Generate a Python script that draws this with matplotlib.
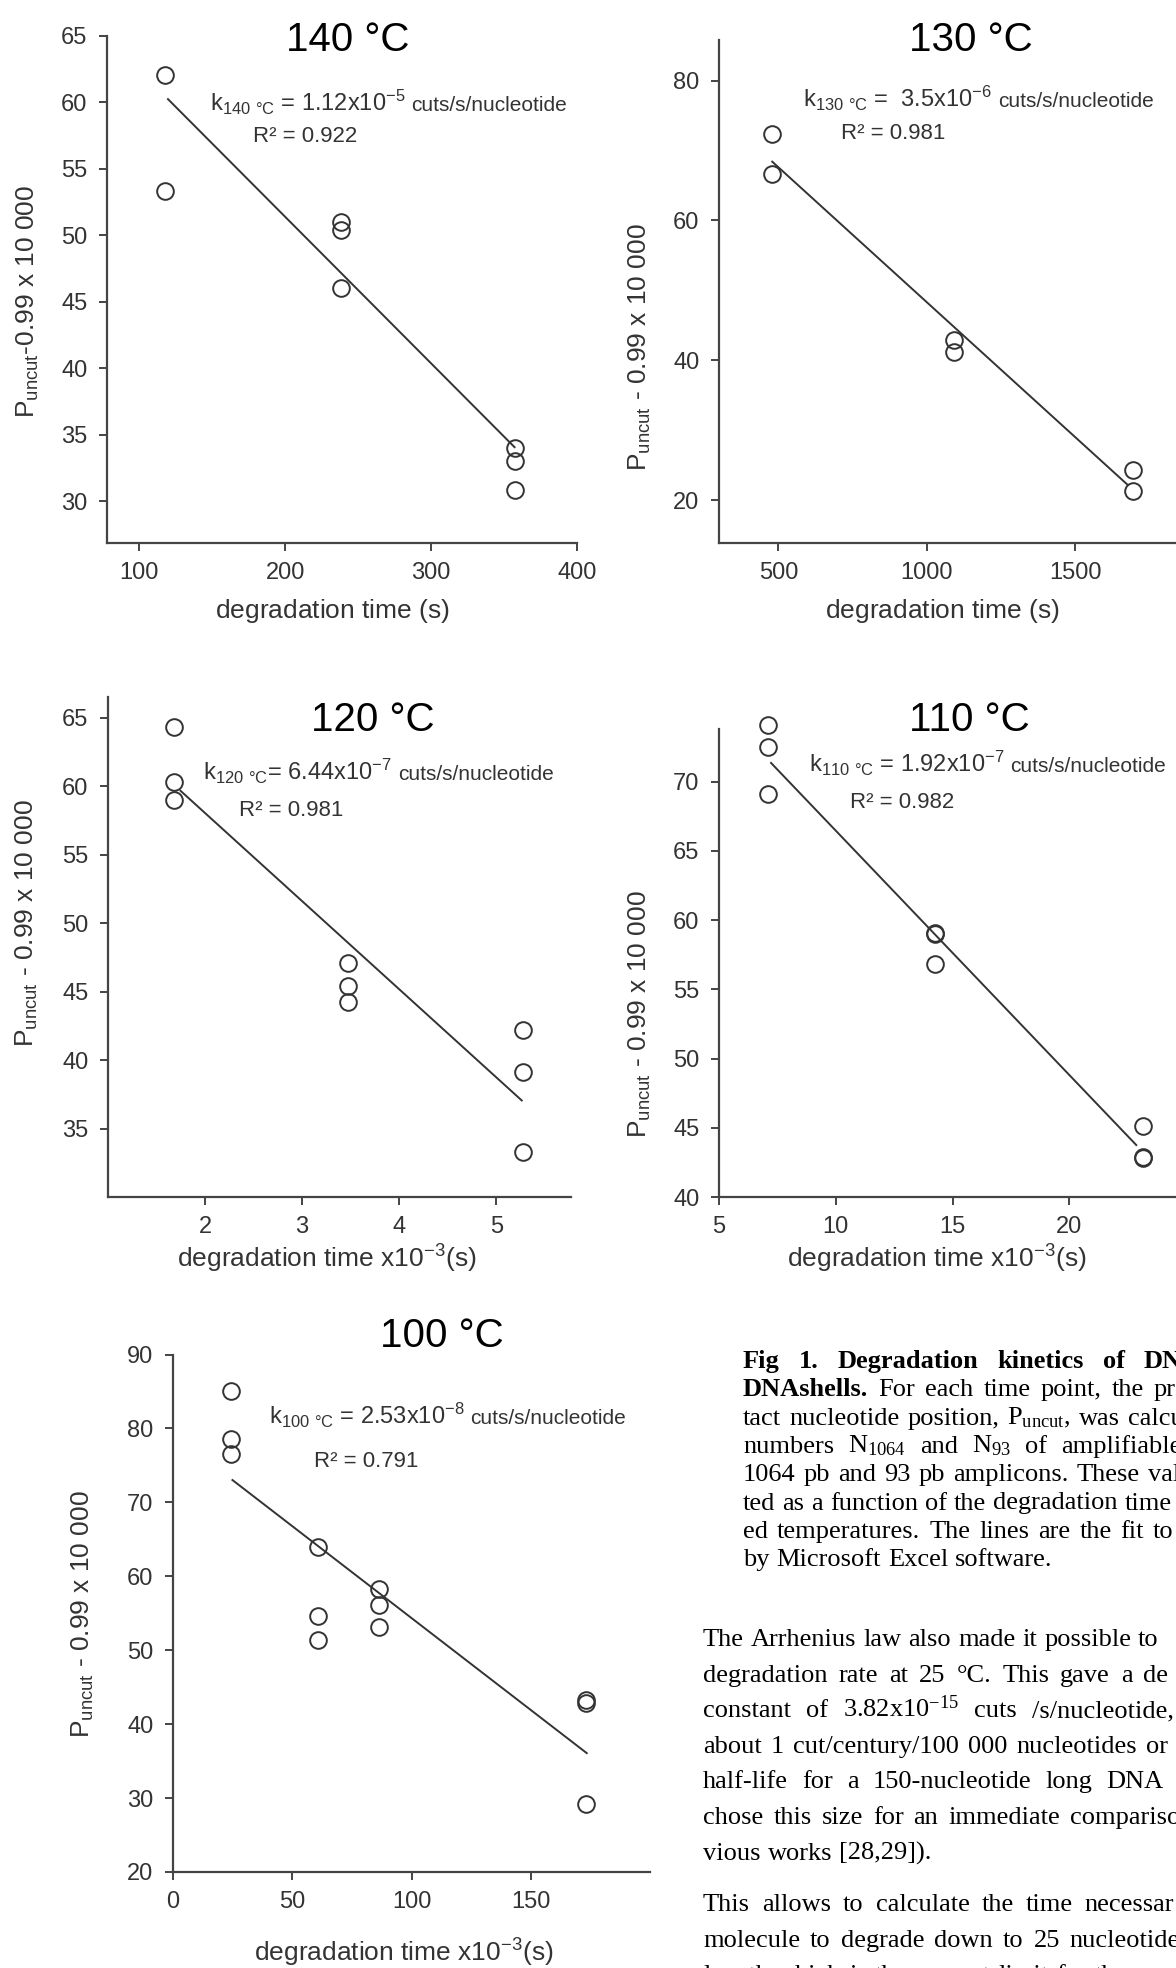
import matplotlib.pyplot as plt

W, H = 1176, 1968

# ---- data ----
t140 = [117.7, 117.7, 238.3, 238.3, 238.3, 357.7, 357.7, 357.7]
p140 = [62.1, 53.3, 51.0, 50.4, 46.0, 34.0, 33.0, 30.8]
fit140_t = [119.3, 357.7]
fit140_p = [60.3, 34.0]

t130 = [478.6, 478.6, 1090.6, 1090.6, 1696, 1696]
p130 = [72.4, 66.6, 42.9, 41.2, 24.3, 21.3]
fit130_t = [477, 1680]
fit130_p = [68.5, 22.1]

t120 = [1.68, 1.68, 1.68, 3.47, 3.47, 3.47, 5.28, 5.28, 5.28]
p120 = [64.3, 60.3, 59.0, 47.1, 45.4, 44.2, 42.2, 39.1, 33.3]
fit120_t = [1.74, 5.27]
fit120_p = [59.7, 37.0]

t110 = [7.08, 7.08, 7.08, 14.23, 14.23, 14.23, 23.15, 23.15, 23.15]
p110 = [74.1, 72.5, 69.1, 59.1, 59.0, 56.8, 45.1, 42.9, 42.8]
fit110_t = [7.2, 22.9]
fit110_p = [71.4, 43.7]

t100 = [24.3, 24.3, 24.3, 60.7, 60.7, 60.7, 86.3, 86.3, 86.3, 173.1, 173.1, 173.1]
p100 = [85.1, 78.6, 76.5, 63.9, 54.6, 51.4, 58.3, 56.1, 53.2, 43.3, 42.9, 29.2]
fit100_t = [24.6, 173.8]
fit100_p = [73.1, 36.0]

temps = ["140 °C", "130 °C", "120 °C", "110 °C", "100 °C"]
k_texts = [r"k$_{140\ °C}$ = 1.12x10$^{-5}$",
           r"k$_{130\ °C}$ =  3.5x10$^{-6}$",
           r"k$_{120\ °C}$= 6.44x10$^{-7}$",
           r"k$_{110\ °C}$ = 1.92x10$^{-7}$",
           r"k$_{100\ °C}$ = 2.53x10$^{-8}$"]
r2_texts = ["R² = 0.922", "R² = 0.981", "R² = 0.981", "R² = 0.982", "R² = 0.791"]
ylabels = [r"P$_{uncut}$-0.99 x 10 000"] + [r"P$_{uncut}$ - 0.99 x 10 000"] * 4
xlabels = ["degradation time ($s$)", "degradation time ($s$)",
           r"degradation time x10$^{-3}$($s$)", r"degradation time x10$^{-3}$($s$)",
           r"degradation time x10$^{-3}$($s$)"]

# text of the page column, as far as the page crop shows it
caption = [
    ([("Fig", "bold"), ("1.", "bold"), ("Degradation", "bold"), ("kinetics", "bold"),
      ("of", "bold"), ("DN", "bold")], 19),
    ([("DNAshells.", "bold"), ("For", "normal"), ("each", "normal"), ("time", "normal"),
      ("point,", "normal"), ("the", "normal"), ("pr", "normal")], 10),
    ([("tact", "normal"), ("nucleotide", "normal"), ("position,", "normal"),
      (r"P$_{uncut}$,", "normal"), ("was", "normal"), ("calcu", "normal")], 8),
    ([("numbers", "normal"), (r"N$_{1064}$", "normal"), ("and", "normal"),
      (r"N$_{93}$", "normal"), ("of", "normal"), ("amplifiable", "normal")], 14),
    ([("1064", "normal"), ("pb", "normal"), ("and", "normal"), ("93", "normal"),
      ("pb", "normal"), ("amplicons.", "normal"), ("These", "normal"), ("val", "normal")], 8),
    ([("ted", "normal"), ("as", "normal"), ("a", "normal"), ("function", "normal"),
      ("of", "normal"), ("the", "normal"), ("degradation", "normal"), ("time", "normal")], 7),
    ([("ed", "normal"), ("temperatures.", "normal"), ("The", "normal"), ("lines", "normal"),
      ("are", "normal"), ("the", "normal"), ("fit", "normal"), ("to", "normal")], 9),
    ([("by", "normal"), ("Microsoft", "normal"), ("Excel", "normal"), ("software.", "normal")], 7),
]

body = [
    ("The Arrhenius law also made it possible to", 7),
    ("degradation rate at 25 °C. This gave a de", 11),
    (r"constant of 3.82x10$^{-15}$ cuts /s/nucleotide,", 15),
    ("about 1 cut/century/100 000 nucleotides or 3", 9),
    ("half-life for a 150-nucleotide long DNA", 14),
    ("chose this size for an immediate compariso", 10),
    ("vious works [28,29]).", 7),
    (None, 0),
    ("This allows to calculate the time necessar", 12),
    ("molecule to degrade down to 25 nucleotide", 10),
    ("length which is the current limit for the", 8),
]

plt.rcParams['font.family'] = 'Liberation Sans'
plt.rcParams['mathtext.default'] = 'regular'

fig = plt.figure(figsize=(W / 100, H / 100), dpi=100)
ink = '#333333'


def fx(x):
    return x / W


def fy(y):
    return 1 - y / H


def make_axes(left, right, top, bottom, xlim, ylim, xticks, yticks):
    ax = fig.add_axes([fx(left), fy(bottom), (right - left) / W, (bottom - top) / H])
    ax.set_xlim(*xlim)
    ax.set_ylim(*ylim)
    ax.patch.set_visible(False)
    for s in ['top', 'right']:
        ax.spines[s].set_visible(False)
    for s in ['left', 'bottom']:
        ax.spines[s].set_linewidth(1.6)
        ax.spines[s].set_color('#444444')
    ax.set_xticks(xticks)
    ax.set_yticks(yticks)
    ax.tick_params(direction='out', length=6, width=1.4, color='#444444',
                   labelsize=17, labelcolor=ink, pad=8)
    return ax


def scatter_fit(ax, t, p, ft, fp):
    ax.plot(ft, fp, color=ink, lw=1.4, solid_capstyle='butt')
    ax.plot(t, p, 'o', ms=12, mfc='none', mec=ink, mew=1.4, clip_on=False)


panels = [
    dict(box=(107, 577, 36, 543), xlim=(78, 400), ylim=(26.84, 65),
         xt=[100, 200, 300, 400], yt=range(30, 66, 5), data=(t140, p140, fit140_t, fit140_p),
         title=(348, 51), k=(210, 111), r2=(253, 142), yl=(28, 301), xl=(333, 618)),
    dict(box=(719, 1223.5, 40, 543), xlim=(300, 2000), ylim=(13.9, 85.8),
         xt=[500, 1000, 1500], yt=[20, 40, 60, 80], data=(t130, p130, fit130_t, fit130_p),
         title=(971, 51), k=(803, 107), r2=(841, 139), yl=(640, 347), xl=(943, 618)),
    dict(box=(108, 571, 697, 1197), xlim=(1.0, 5.77), ylim=(30.0, 66.5),
         xt=[2, 3, 4, 5], yt=range(35, 66, 5), data=(t120, p120, fit120_t, fit120_p),
         title=(373, 731), k=(203, 780), r2=(239, 816), yl=(27, 923), xl=(327, 1268)),
    dict(box=(719, 1186, 729, 1197), xlim=(5, 25), ylim=(40, 73.8),
         xt=[5, 10, 15, 20], yt=range(40, 71, 5), data=(t110, p110, fit110_t, fit110_p),
         title=(969, 731), k=(809, 772), r2=(850, 808), yl=(640, 1014), xl=(937, 1268)),
    dict(box=(173, 650, 1354.5, 1872), xlim=(0, 200), ylim=(20, 90),
         xt=[0, 50, 100, 150], yt=range(20, 91, 10), data=(t100, p100, fit100_t, fit100_p),
         title=(442, 1347), k=(269, 1424), r2=(314, 1467), yl=(83, 1614), xl=(404, 1962)),
]

renderer = fig.canvas.get_renderer()

for i, pn in enumerate(panels):
    l, r, t, b = pn['box']
    ax = make_axes(l, r, t, b, pn['xlim'], pn['ylim'], pn['xt'], pn['yt'])
    scatter_fit(ax, *pn['data'])
    fig.text(fx(pn['title'][0]), fy(pn['title'][1]), temps[i], fontsize=29,
             ha='center', va='baseline', color='black')
    kt = fig.text(fx(pn['k'][0]), fy(pn['k'][1]), k_texts[i], fontsize=17,
                  ha='left', va='baseline', color=ink)
    bb = kt.get_window_extent(renderer)
    fig.text(fx(bb.x1 + 6), fy(pn['k'][1]), "cuts/s/nucleotide", fontsize=15,
             ha='left', va='baseline', color=ink)
    fig.text(fx(pn['r2'][0]), fy(pn['r2'][1]), r2_texts[i], fontsize=16,
             ha='left', va='baseline', color=ink)
    fig.text(fx(pn['yl'][0]), fy(pn['yl'][1]), ylabels[i], fontsize=19, rotation=90,
             ha='center', va='center', color=ink)
    fig.text(fx(pn['xl'][0]), fy(pn['xl'][1]), xlabels[i], fontsize=19,
             ha='center', va='baseline', color=ink)

# ---- caption and body text on the right (cut by the page edge) ----
serif = 'Liberation Serif'


def put_words(x, y, words, gap):
    cx = x
    for w, wt in words:
        tx = fig.text(fx(cx), fy(y), w, fontsize=19, fontweight=wt, family=serif,
                      ha='left', va='baseline', color='black')
        cx += tx.get_window_extent(renderer).width + gap


for n, (words, gap) in enumerate(caption):
    put_words(743, 1368 + n * 28.3, words, gap)

y = 1646
for line, gap in body:
    if line is None:
        y += 16
        continue
    put_words(703, y, [(w, 'normal') for w in line.split(' ')], gap)
    y += 35.6

fig.savefig('out.png', dpi=100)
